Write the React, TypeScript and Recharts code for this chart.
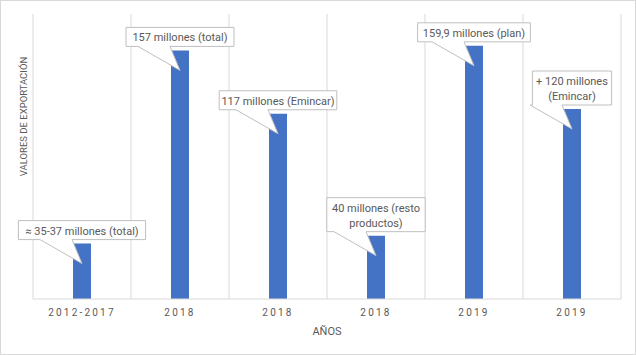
import { Bar, BarChart, CartesianGrid, LabelList, XAxis, YAxis } from "recharts";

const years = ["2012-2017", "2018", "2018", "2018", "2019", "2019"];
const values = [35, 157, 117, 40, 159.9, 120];
const notes = [
  "≈ 35-37 millones (total)",
  "157 millones (total)",
  "117 millones (Emincar)",
  "40 millones (resto\nproductos)",
  "159,9 millones (plan)",
  "+ 120 millones\n(Emincar)",
];

const data = years.map((year, i) => ({ idx: i, year, value: values[i], note: notes[i] }));

const GREY = "#595959";
const LINE = "#d9d9d9";

function Callout(props: any) {
  const { x, y, width, index } = props;
  const lines = notes[index].split("\n");
  const cx = x + width / 2;
  const longest = Math.max(...lines.map((l) => l.length));
  const w = longest * 4.8 + 12;
  const h = lines.length === 1 ? 19 : 34;
  const bottom = y - 4;
  const top = bottom - h;
  const left = cx - w / 2;
  const right = cx + w / 2;
  const d = `M${left},${top} H${right} V${bottom} H${cx - 10} L${cx},${y + 20} L${cx - 42},${bottom} H${left} Z`;
  return (
    <g>
      <path d={d} fill="#fff" stroke="#bfbfbf" strokeWidth={1} />
      {lines.map((l, i) => (
        <text
          key={i}
          x={cx}
          y={top + 14 + i * 15}
          textAnchor="middle"
          fontSize={11}
          fill={GREY}
          fontFamily="Roboto, sans-serif"
        >
          {l}
        </text>
      ))}
    </g>
  );
}

export default function App() {
  return (
    <div style={{ position: "absolute", left: 0, top: 0, width: 636, height: 355 }}>
      <div
        style={{
          position: "absolute",
          left: 0,
          top: 0,
          width: 634,
          height: 353,
          border: `1px solid ${LINE}`,
          background: "#fff",
        }}
      />
      <div style={{ position: "absolute", left: 0, top: 0 }}>
        <BarChart
          width={636}
          height={355}
          data={data}
          margin={{ top: 14, right: 15, left: 0, bottom: 16 }}
          style={{ fontFamily: "Roboto, sans-serif" }}
        >
          <CartesianGrid
            horizontal={false}
            stroke={LINE}
            verticalCoordinatesGenerator={({ offset }: any) =>
              years.map((_, i) => offset.left + (i * offset.width) / years.length).concat(offset.left + offset.width)
            }
          />
          <XAxis
            dataKey="idx"
            tickFormatter={(i: number) => years[i]}
            tickLine={false}
            axisLine={{ stroke: LINE }}
            tick={{ fontSize: 10, fill: GREY, letterSpacing: 2.2 }}
            tickMargin={4}
            height={40}
            label={{ value: "AÑOS", position: "insideBottom", offset: 4, fontSize: 11, fill: GREY }}
          />
          <YAxis
            domain={[0, 180]}
            tick={false}
            axisLine={false}
            tickLine={false}
            width={33}
            label={{
              value: "VALORES DE EXPORTACIÓN",
              angle: -90,
              position: "center",
              dx: 7,
              dy: -40,
              fontSize: 9.5,
              fill: GREY,
            }}
          />
          <Bar dataKey="value" fill="#4472C4" barSize={18} isAnimationActive={false}>
            <LabelList dataKey="note" content={<Callout />} />
          </Bar>
        </BarChart>
      </div>
    </div>
  );
}
